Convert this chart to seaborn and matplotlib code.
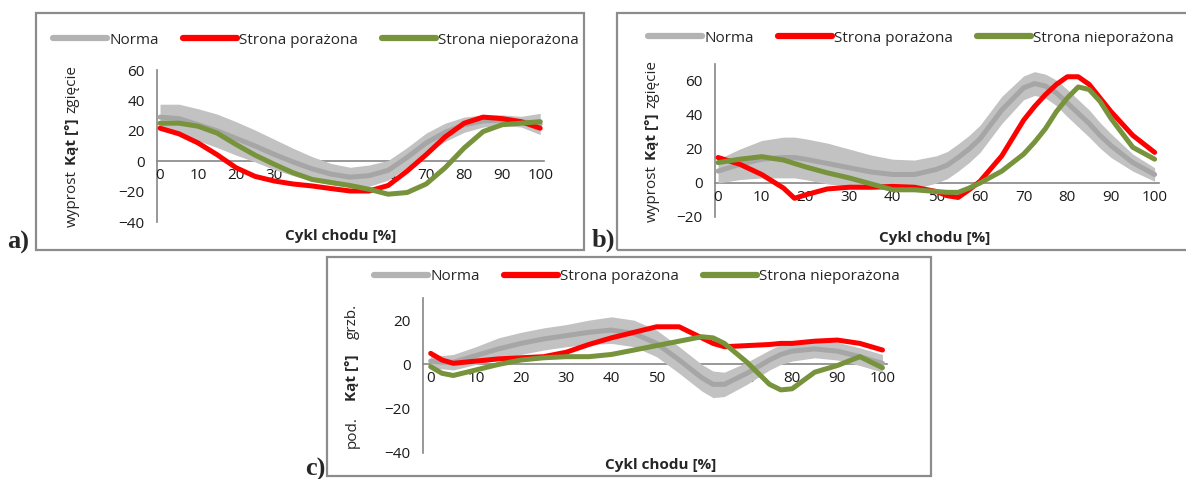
import numpy as np
import pandas as pd
import matplotlib
matplotlib.use('Agg')
import matplotlib.pyplot as plt
import seaborn as sns
from matplotlib.patches import Rectangle
from matplotlib.lines import Line2D

# === DATA ===
SERIES = ['Norma', 'Strona porażona', 'Strona nieporażona']

# a)
x_a = [0, 5, 10, 15, 20, 25, 30, 35, 40, 45, 50, 55, 60, 65, 70, 75, 80, 85, 90, 95, 100]
norma_a = [29, 28, 24, 20, 15, 10, 4.5, -0.5, -5, -8.5, -10.5, -9.5, -6, 2.5, 12, 19, 24, 26.5, 27, 26, 24.5]
sd_a = [8.5, 9.5, 10.5, 11, 11, 10.5, 10, 9, 8, 7, 6.5, 7, 6.5, 6.5, 6.5, 6, 5, 4, 3.5, 3.5, 7]
red_a = [21.7, 18, 12, 4.3, -4.3, -10, -13, -15, -16.3, -18, -19.6, -19.6, -16, -6.5, 4.3, 16, 25, 29, 28, 26, 21.7]
green_a = [25, 25, 23, 18.5, 11, 4, -2, -7.6, -12, -14, -16, -18.5, -21.7, -20.6, -15, -4.3, 8.7, 19.5, 24, 25, 26]

# b)
x_b = [0, 5, 10, 15, 17.5, 20, 25, 30, 35, 40, 45, 50, 52.5, 55, 57.5, 60, 65, 70,
       72.5, 75, 77.5, 80, 82.5, 85, 87.5, 90, 95, 100]
norma_b = [7, 11, 14, 15, 15, 14, 11.5, 9, 6.5, 5, 5, 8, 10.5, 15, 20, 26, 43, 56,
           58.5, 57, 53, 47, 41, 35, 28, 22, 12, 5]
sd_b = [7, 9, 11, 12, 12, 12, 12, 11, 10, 9, 8.5, 8, 8, 8, 8, 8, 8, 7,
        7, 7, 7.5, 8, 8, 8, 7.5, 7, 5, 4]
red_b = [15, 11, 5, -3, -9, -7, -3.5, -2.5, -2.5, -2, -2.5, -5, -7.5, -8.5, -4, 1, 16, 37,
         45, 52, 58, 62.5, 62.5, 58, 50, 42, 28, 18]
green_b = [12, 14, 15.5, 13.5, 11.5, 9.5, 6, 3, -0.5, -4, -4, -5, -5.5, -5.5, -3, 0, 7, 17,
           24, 32, 42, 50, 56.5, 55, 48, 38, 21, 14]

# c)
x_c = [0, 2.5, 5, 10, 15, 20, 25, 30, 35, 40, 45, 50, 55, 60, 62.5, 65, 70, 75, 77.5, 80, 85, 90, 95, 100]
norma_c = [1.5, 1, 1, 4, 7, 9.5, 11.5, 13, 14.5, 15.5, 14, 9.5, 2, -6, -9, -9, -4, 2, 4.5, 6, 7, 6, 3.5, 0.5]
sd_c = [3, 3, 3.5, 4, 5, 5, 5, 5, 5.5, 6, 6, 6, 6, 6, 6, 5.5, 5, 4.5, 4.5, 4.5, 4, 4, 4, 4]
red_c = [5, 2, 0.5, 1.5, 2.5, 3, 3.5, 5.5, 9, 12, 14.5, 17, 17, 12, 9.5, 8, 8.5, 9, 9.5, 9.5, 10.5, 11, 9.5, 6.5]
green_c = [-1, -4, -5, -2.5, 0, 2, 3, 3.5, 3.5, 4.5, 6.5, 8.5, 10.5, 12.5, 12, 9.5, 1, -9, -11.5, -11, -3.5, -0.5, 3.5, -1.5]

X_TICKS = list(range(0, 101, 10))

# === STYLE ===
sns.set_style('white')
plt.rcParams['font.family'] = ['Open Sans', 'DejaVu Sans']
COLORS = {'Norma': '#a6a6a6', 'Strona porażona': '#ff0000', 'Strona nieporażona': '#77933c'}
BAND = '#c2c2c2'
AXIS_GREY = '#868686'
FS = 11

W, H = 1186, 479
fig = plt.figure(figsize=(W / 100, H / 100), dpi=100)


def rect_px(x0, y0, x1, y1):
    # pixel box (top-left origin) -> figure fraction rect
    return [x0 / W, 1 - y1 / H, (x1 - x0) / W, (y1 - y0) / H]


def stacked_ylabel(x_px, yc_px, parts, gap):
    renderer = fig.canvas.get_renderer()
    texts = [fig.text(x_px / W, 1 - yc_px / H, s, rotation=90, ha='center', va='center',
                      fontsize=FS, weight=w) for s, w in parts]
    hs = [t.get_window_extent(renderer).height for t in texts]
    total = sum(hs) + gap * (len(hs) - 1)
    y = (H - yc_px) - total / 2
    for t, h in zip(texts, hs):
        t.set_position((x_px / W, (y + h / 2) / H))
        y += h + gap


def draw_panel(ax_box, xlim, ylim, yticks, x, norma, sd, red, green,
               frame, tag, tag_xy, legend_xy, xlabel_xy, ylabel_xy, ylabel_parts, gap):
    fig.patches.append(Rectangle((frame[0] / W, 1 - frame[3] / H),
                                 (frame[2] - frame[0]) / W, (frame[3] - frame[1]) / H,
                                 transform=fig.transFigure, fill=False,
                                 edgecolor='#8c8c8c', lw=1.6, zorder=0))
    ax = fig.add_axes(rect_px(*ax_box))
    ax.patch.set_alpha(0)

    df = pd.DataFrame({'x': x, 'Norma': norma, 'Strona porażona': red, 'Strona nieporażona': green})
    long = df.melt(id_vars='x', var_name='seria', value_name='kat')

    lo = np.array(norma) - np.array(sd)
    hi = np.array(norma) + np.array(sd)
    ax.fill_between(x, lo, hi, color=BAND, lw=0, zorder=1)
    sns.lineplot(data=long, x='x', y='kat', hue='seria', hue_order=SERIES, palette=COLORS,
                 lw=3.6, sort=False, legend=False, ax=ax, zorder=2,
                 solid_joinstyle='round', solid_capstyle='round')

    ax.set_xlim(*xlim)
    ax.set_ylim(*ylim)
    ax.set_xticks(X_TICKS)
    ax.set_yticks(yticks)
    ax.set_xlabel('')
    ax.set_ylabel('')
    for s in ['top', 'right']:
        ax.spines[s].set_visible(False)
    ax.spines['bottom'].set_position(('data', 0))
    for s in ['bottom', 'left']:
        ax.spines[s].set_color(AXIS_GREY)
        ax.spines[s].set_linewidth(1.2)
        ax.spines[s].set_zorder(0.5)
    ax.tick_params(axis='both', direction='out', length=4, width=1.2, color=AXIS_GREY,
                   labelsize=FS, labelcolor='#1a1a1a')
    ax.tick_params(axis='x', pad=1)
    ax.tick_params(axis='y', pad=5)

    handles = [Line2D([], [], color='#b3b3b3', lw=4.5),
               Line2D([], [], color=COLORS['Strona porażona'], lw=4.5),
               Line2D([], [], color=COLORS['Strona nieporażona'], lw=4.5)]
    ax.legend(handles, SERIES, loc='center', ncol=3, frameon=False,
              bbox_to_anchor=(legend_xy[0] / W, 1 - legend_xy[1] / H), bbox_transform=fig.transFigure,
              fontsize=FS, handlelength=3.5, handletextpad=0.15, columnspacing=1.6)

    fig.text(xlabel_xy[0] / W, 1 - xlabel_xy[1] / H, 'Cykl chodu [%]', ha='center', va='center',
             fontsize=FS, weight='bold')
    stacked_ylabel(ylabel_xy[0], ylabel_xy[1], ylabel_parts, gap)
    fig.text(tag_xy[0] / W, 1 - tag_xy[1] / H, tag, ha='center', va='center',
             family='Liberation Serif', weight='bold', fontsize=19)
    return ax


KNEE_LABEL = [('wyprost', 'normal'), ('Kąt [°]', 'bold'), ('zgięcie', 'normal')]
ANKLE_LABEL = [('pod.', 'normal'), ('Kąt [°]', 'bold'), ('grzb.', 'normal')]

draw_panel((157, 70, 544, 222), (-0.8, 101), (-40, 60), [-40, -20, 0, 20, 40, 60],
           x_a, norma_a, sd_a, red_a, green_a,
           frame=(36, 13, 584, 250), tag='a)', tag_xy=(18, 242),
           legend_xy=(316, 40), xlabel_xy=(341, 236), ylabel_xy=(72, 146),
           ylabel_parts=KNEE_LABEL, gap=5)

draw_panel((715, 64, 1159, 217), (-0.7, 101), (-20, 70), [-20, 0, 20, 40, 60],
           x_b, norma_b, sd_b, red_b, green_b,
           frame=(617, 13, 1195, 250), tag='b)', tag_xy=(603, 240),
           legend_xy=(911, 38), xlabel_xy=(935, 238), ylabel_xy=(652, 141),
           ylabel_parts=KNEE_LABEL, gap=5)

draw_panel((423, 298, 887, 453), (-1.7, 101), (-40, 30), [-40, -20, 0, 20],
           x_c, norma_c, sd_c, red_c, green_c,
           frame=(327, 257, 931, 476), tag='c)', tag_xy=(315, 469),
           legend_xy=(637, 277), xlabel_xy=(661, 465), ylabel_xy=(352, 376),
           ylabel_parts=ANKLE_LABEL, gap=15)

fig.savefig('out.png', dpi=100)
